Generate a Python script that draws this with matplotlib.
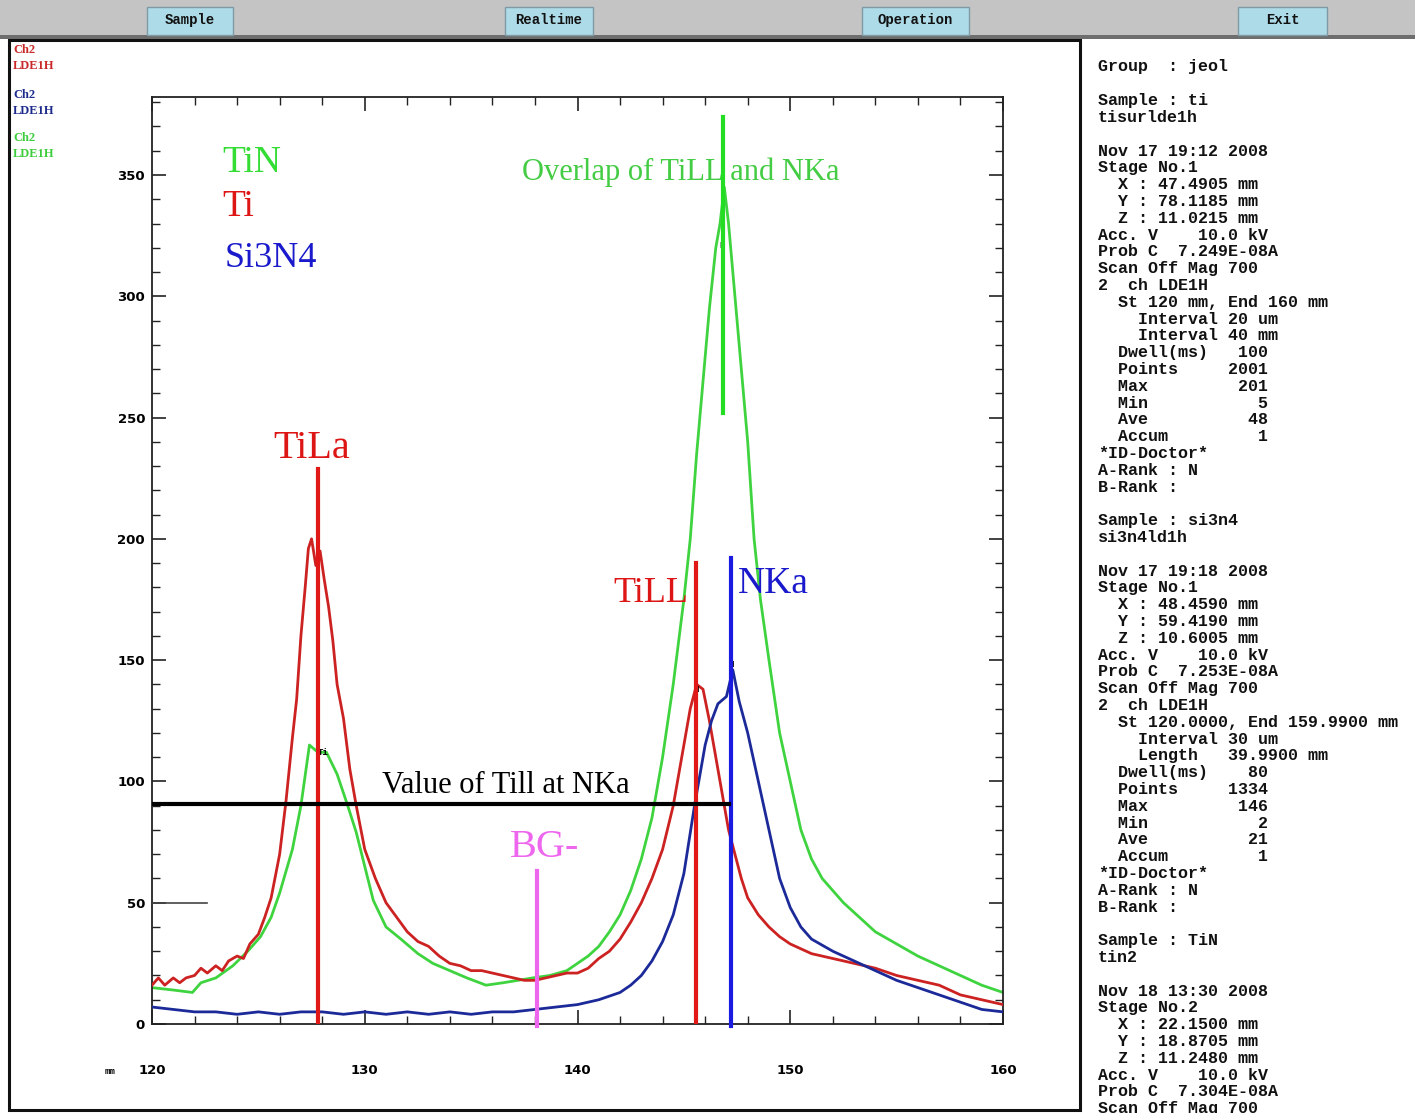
import matplotlib
matplotlib.use("Agg")
import matplotlib.pyplot as plt
from matplotlib.patches import Rectangle
from matplotlib.ticker import MultipleLocator

# ---- spectra (L-value in mm vs counts) ----
ti_x = [120, 120.3, 120.6, 121, 121.3, 121.6, 122, 122.3, 122.6, 123, 123.3, 123.6,
        124, 124.3, 124.6, 125, 125.3, 125.6,
        126, 126.3, 126.6, 126.8, 127.0, 127.2, 127.35, 127.5, 127.7, 127.9, 128.1,
        128.3, 128.5, 128.7, 129.0,
        129.3, 129.6, 130.0, 130.5, 131, 131.5, 132, 132.5, 133, 133.5, 134, 134.5,
        135, 135.5, 136, 136.5, 137, 137.5, 138, 138.5, 139, 139.5, 140, 140.5,
        141, 141.5, 142, 142.5, 143, 143.5, 144, 144.5, 145, 145.3, 145.6, 145.9,
        146.2, 146.5, 146.8, 147.1, 147.4, 147.7, 148, 148.5, 149, 149.5, 150,
        151, 152, 153, 154, 155, 156, 157, 158, 159, 160]
ti_y = [16, 19, 16, 19, 17, 19, 20, 23, 21, 24, 22, 26,
        28, 27, 33, 37, 44, 52,
        70, 92, 118, 134, 160, 180, 196, 200, 189, 195, 183,
        172, 158, 140, 126,
        105, 90, 72, 60, 50, 44, 38, 34, 32, 28, 25, 24,
        22, 22, 21, 20, 19, 18, 18, 19, 20, 21, 21, 23,
        27, 30, 35, 42, 50, 60, 72, 90, 115, 130, 140, 138,
        125, 110, 95, 80, 70, 60, 52, 45, 40, 36, 33,
        29, 27, 25, 23, 20, 18, 16, 12, 10, 8]

si3n4_x = [120, 121, 122, 123, 124, 125, 126, 127, 128, 129, 130, 131, 132, 133,
           134, 135, 136, 137, 138, 139, 140, 141, 142, 142.5, 143, 143.5, 144,
           144.5, 145, 145.5, 146, 146.3, 146.6, 147, 147.3, 147.6, 148, 148.5,
           149, 149.5, 150, 150.5, 151, 152, 153, 154, 155, 156, 157, 158, 159, 160]
si3n4_y = [7, 6, 5, 5, 4, 5, 4, 5, 5, 4, 5, 4, 5, 4,
           5, 4, 5, 5, 6, 7, 8, 10, 13, 16, 20, 26, 34,
           45, 62, 90, 115, 125, 132, 135, 146, 133, 120, 100,
           80, 60, 48, 40, 35, 30, 26, 22, 18, 15, 12, 9, 6, 5]

tin_x = [120, 121, 121.9, 122.3, 123, 123.8, 124.5, 125.1, 125.6, 126.0, 126.6,
         127.0, 127.4, 127.8, 128.2, 128.7, 129.2, 129.6, 130.0, 130.4, 131.0,
         131.7, 132.5, 133.2, 134, 134.8, 135.7, 136.5, 137.2, 137.9, 138.7,
         139.5, 140, 140.5, 141, 141.5, 142, 142.5, 143, 143.5, 144, 144.5, 145,
         145.3, 145.6, 145.9, 146.2, 146.5, 146.7, 146.9, 147.1, 147.4, 147.7,
         148, 148.3, 148.6, 149, 149.5, 150, 150.5, 151, 151.5, 152, 152.5, 153,
         154, 155, 156, 157, 158, 159, 160]
tin_y = [15, 14, 13, 17, 19, 24, 30, 36, 44, 54, 72,
         90, 115, 112, 112, 103, 90, 79, 65, 51, 40,
         35, 29, 25, 22, 19, 16, 17, 18, 19, 20,
         22, 25, 28, 32, 38, 45, 55, 68, 85, 110, 140, 175,
         200, 235, 265, 295, 320, 330, 345, 330, 300, 270,
         240, 200, 175, 150, 120, 100, 80, 68, 60, 55, 50, 46,
         38, 33, 28, 24, 20, 16, 13]

# ---- peak markers ----
tila_pos, tila_top = 127.8, 229
till_pos, till_top = 145.55, 190
nka_pos, nka_top = 147.2, 192
overlap_pos, overlap_lo, overlap_hi = 146.85, 252, 374
bg_pos, bg_top = 138.1, 63
till_level, till_level_end = 90.7, 147.1

# ---- axis ----
x_major = [120, 130, 140, 150, 160]
y_major = [0, 50, 100, 150, 200, 250, 300, 350]

# ---- side panel ----
info_lines = [
    "Group  : jeol", "",
    "Sample : ti", "tisurlde1h", "",
    "Nov 17 19:12 2008", "Stage No.1",
    "  X : 47.4905 mm", "  Y : 78.1185 mm", "  Z : 11.0215 mm",
    "Acc. V    10.0 kV", "Prob C  7.249E-08A", "Scan Off Mag 700",
    "2  ch LDE1H", "  St 120 mm, End 160 mm", "    Interval 20 um",
    "    Interval 40 mm", "  Dwell(ms)   100", "  Points     2001",
    "  Max         201", "  Min           5", "  Ave          48",
    "  Accum         1", "*ID-Doctor*", "A-Rank : N", "B-Rank :", "",
    "Sample : si3n4", "si3n4ld1h", "",
    "Nov 17 19:18 2008", "Stage No.1",
    "  X : 48.4590 mm", "  Y : 59.4190 mm", "  Z : 10.6005 mm",
    "Acc. V    10.0 kV", "Prob C  7.253E-08A", "Scan Off Mag 700",
    "2  ch LDE1H", "  St 120.0000, End 159.9900 mm", "    Interval 30 um",
    "    Length   39.9900 mm", "  Dwell(ms)    80", "  Points     1334",
    "  Max         146", "  Min           2", "  Ave          21",
    "  Accum         1", "*ID-Doctor*", "A-Rank : N", "B-Rank :", "",
    "Sample : TiN", "tin2", "",
    "Nov 18 13:30 2008", "Stage No.2",
    "  X : 22.1500 mm", "  Y : 18.8705 mm", "  Z : 11.2480 mm",
    "Acc. V    10.0 kV", "Prob C  7.304E-08A", "Scan Off Mag 700",
]
buttons = ["Sample", "Realtime", "Operation", "Exit"]

W, H = 1415, 1113
fig = plt.figure(figsize=(W / 100, H / 100), dpi=100)
fig.patch.set_facecolor("white")


def fx(x):
    return x / W


def fy(y):
    return 1 - y / H


def frect(x0, y0, x1, y1, **kw):
    fig.add_artist(Rectangle((fx(x0), fy(y1)), fx(x1) - fx(x0), (y1 - y0) / H,
                             transform=fig.transFigure, **kw))


# toolbar
frect(0, 0, W, 38, facecolor="#c4c4c4", edgecolor="none")
frect(0, 35, W, 39, facecolor="#6e6e6e", edgecolor="none")
btn_box = [(147, 233), (505, 593), (862, 969), (1238, 1327)]
for (b0, b1), name in zip(btn_box, buttons):
    frect(b0, 7, b1, 35, facecolor="#aedbe8", edgecolor="#7f9aa5", linewidth=1)
    fig.text(fx((b0 + b1) / 2), fy(20), name, ha="center", va="center",
             fontsize=10, fontweight="bold", family="Liberation Mono", color="#111111")

# framed plot panel
frect(9, 40, 1080, 1110, facecolor="none", edgecolor="#111111", linewidth=2.2)

# channel legend
legend_items = [("#c82828", 50), ("#1c2a8c", 95), ("#3ccc3c", 138)]
for col, y0 in legend_items:
    fig.text(fx(13), fy(y0), "Ch2", color=col, fontsize=9, fontweight="bold",
             family="Liberation Serif", va="center")
    fig.text(fx(13), fy(y0 + 16), "LDE1H", color=col, fontsize=9, fontweight="bold",
             family="Liberation Serif", va="center")

# axes
ax = fig.add_axes([fx(152), fy(1024), (1003 - 152) / W, (1024 - 97) / H])
ax.set_xlim(120, 160)
ax.set_ylim(0, (1024 - 97) / (849 / 350))
for s in ax.spines.values():
    s.set_color("#222222")
    s.set_linewidth(1.3)

ax.plot(ti_x, ti_y, color="#cc2222", lw=2.0, zorder=3)
ax.plot(tin_x, tin_y, color="#3fd43f", lw=2.0, zorder=2)
ax.plot(si3n4_x, si3n4_y, color="#1c2a99", lw=2.0, zorder=4)

ax.plot([tila_pos, tila_pos], [0, tila_top], color="#e01818", lw=3, zorder=5)
ax.plot([till_pos, till_pos], [0, till_top], color="#e01818", lw=3, zorder=5)
ax.plot([nka_pos, nka_pos], [-1, nka_top], color="#1a1ae0", lw=3, zorder=5,
        clip_on=False)
ax.plot([overlap_pos, overlap_pos], [overlap_lo, overlap_hi], color="#22dd22", lw=3,
        zorder=5)
ax.plot([bg_pos, bg_pos], [-1, bg_top], color="#ee66ee", lw=3, zorder=5, clip_on=False)
ax.plot([120, till_level_end], [till_level, till_level], color="black", lw=3, zorder=6)
ax.plot([120, 122.6], [50, 50], color="#444444", lw=1.2, zorder=6)

serif = "Liberation Serif"
ax.text(123.3, 351.2, "TiN", color="#33dd33", fontsize=27, family=serif, va="baseline")
ax.text(123.3, 333.1, "Ti", color="#dd1515", fontsize=27, family=serif, va="baseline")
ax.text(123.4, 312.1, "Si3N4", color="#1a1acc", fontsize=26, family=serif, va="baseline")
ax.text(137.4, 347.9, "Overlap of TiLL and NKa", color="#44cc44", fontsize=22,
        family=serif, va="baseline")
ax.text(125.7, 233.3, "TiLa", color="#dd1515", fontsize=29, family=serif, va="baseline")
ax.text(141.67, 174, "TiLL", color="#dd1515", fontsize=26, family=serif, va="baseline")
ax.text(147.55, 177.7, "NKa", color="#1a1acc", fontsize=27, family=serif, va="baseline")
ax.text(130.8, 95.2, "Value of Till at NKa", color="black", fontsize=22, family=serif,
        va="baseline")
ax.text(136.8, 68.8, "BG-", color="#ee66ee", fontsize=29, family=serif, va="baseline")

mono = "Liberation Mono"
ax.text(127.8, 111, "Ti", fontsize=6.5, fontweight="bold", family=mono)
ax.text(146.65, 320, "N", fontsize=6.5, fontweight="bold", family=mono)
ax.text(145.45, 137, "N", fontsize=6.5, fontweight="bold", family=mono)
ax.text(147.1, 147, "N", fontsize=6.5, fontweight="bold", family=mono)

ax.xaxis.set_minor_locator(MultipleLocator(2))
ax.yaxis.set_minor_locator(MultipleLocator(10))
ax.set_yticks(y_major)
ax.set_xticks(x_major)
ax.tick_params(which="both", direction="in", top=True, right=True, color="#222222")
ax.tick_params(which="major", length=10, width=1.2)
ax.tick_params(which="minor", length=6, width=1.0)
ax.tick_params(axis="x", which="major", pad=29)
ax.tick_params(axis="y", which="major", pad=5)
for lab in ax.get_xticklabels() + ax.get_yticklabels():
    lab.set_fontsize(9.5)
    lab.set_fontweight("bold")
    lab.set_family("DejaVu Sans")

fig.text(fx(110), fy(1071), "mm", fontsize=6.5, fontweight="bold", family=mono,
         ha="center", va="center")

# side panel text
for i, line in enumerate(info_lines):
    if line:
        fig.text(fx(1098), fy(67 + i * 16.8), line, fontsize=12, fontweight="bold",
                 family=mono, va="center", color="#111111")

fig.savefig("out.png", dpi=100, facecolor="white")
